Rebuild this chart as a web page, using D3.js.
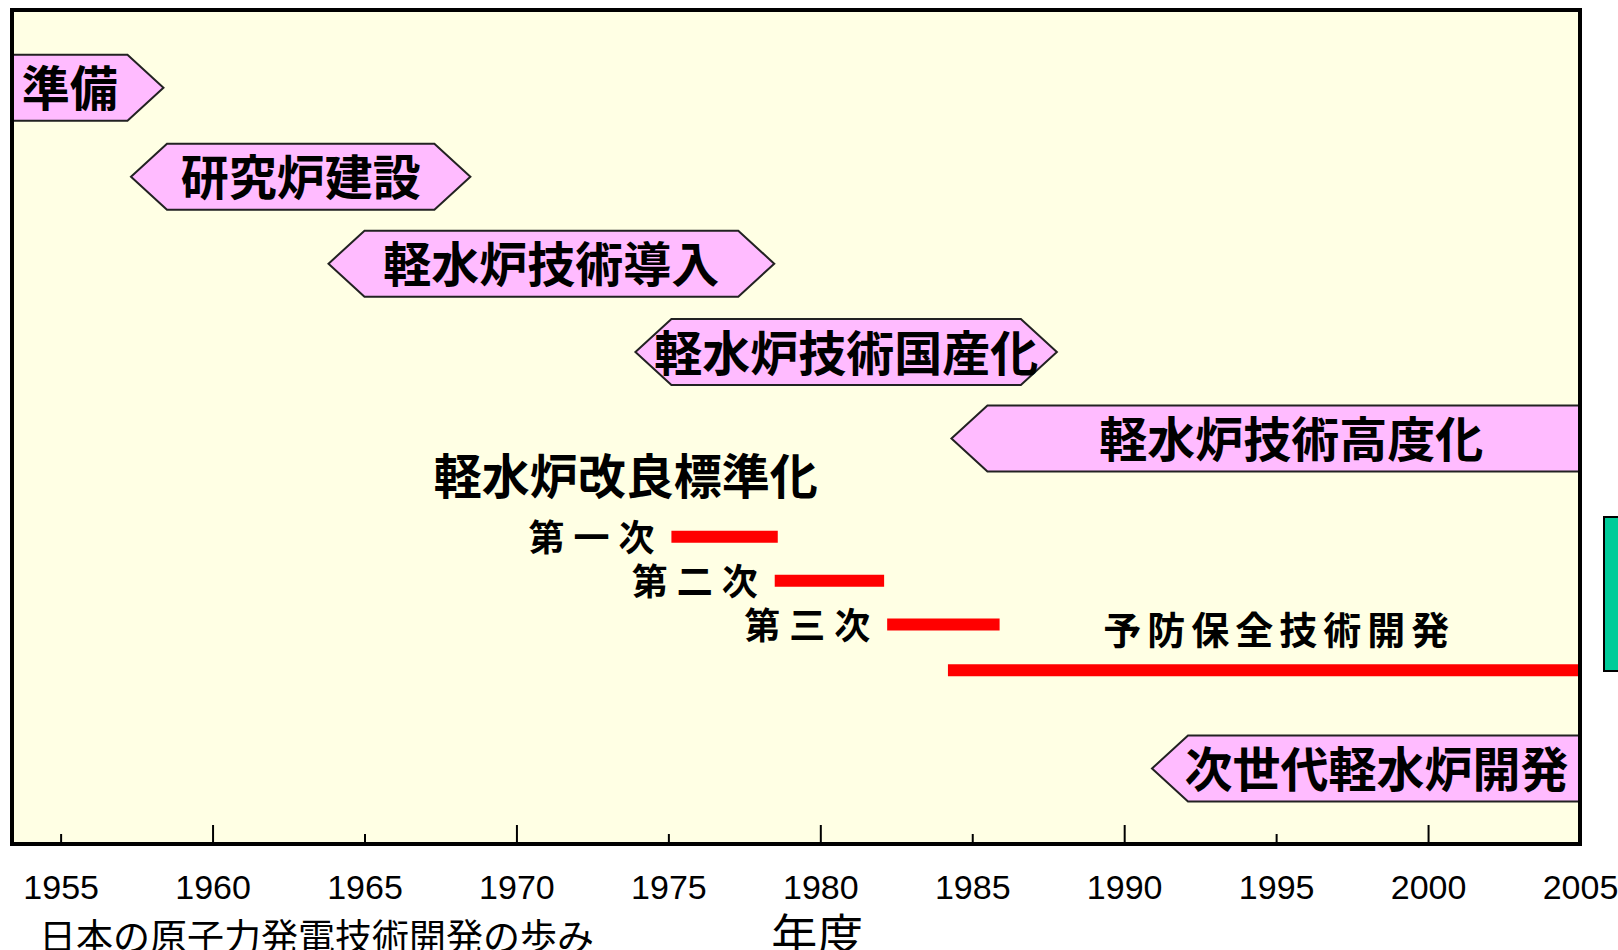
<!DOCTYPE html>
<html>
<head>
<meta charset="utf-8">
<script src="https://cdn.jsdelivr.net/npm/d3@7"></script>
<style>
  body { margin: 0; background: #ffffff; }
  svg { display: block; }
</style>
</head>
<body>
<div id="chart"></div>
<script>
// phase bars: body start / end in fiscal years, row = vertical level
const phaseLabels = ["準備", "研究炉建設", "軽水炉技術導入", "軽水炉技術国産化", "軽水炉技術高度化", "次世代軽水炉開発"];
const phaseStart  = [1953.4, 1958.5, 1965.0, 1975.1, 1985.5, 1992.1];
const phaseEnd    = [1957.2, 1967.3, 1977.3, 1986.6, 2005, 2005];
const phaseRow    = [0.885, 1.9, 2.89, 3.895, 4.88, 8.64];
// label centre (year) where it is not the middle of the bar
const phaseTextYear = [null, null, null, null, 1995.5, 1998.3];

// standardisation programme (red lines)
const stepLabels = ["第一次", "第二次", "第三次"];
const stepStart  = [1975.1, 1978.5, 1982.2];
const stepEnd    = [1978.6, 1982.1, 1985.9];
const stepRow    = [6.0, 6.5, 7.0];

const groupTitle = "軽水炉改良標準化";
const groupTitleYear = 1973.6, groupTitleRow = 5.3;

const maintLabel = "予防保全技術開発";
const maintStart = 1984.2, maintEnd = 2005, maintRow = 7.52;
const maintLabelYear = 1995.1, maintLabelRow = 7.06;

const tickYears = [1955, 1960, 1965, 1970, 1975, 1980, 1985, 1990, 1995, 2000, 2005];
const caption = "日本の原子力発電技術開発の歩み";
const xTitle = "年度";

const width = 1618, height = 950;
const frame = { left: 12, right: 1580, top: 10, bottom: 844 };
const barH = 66, tip = 36;

const svg = d3.select("#chart")
    .append("svg")
    .attr("width", width)
    .attr("height", height);

const xScale = d3.scaleLinear()
    .domain([1953.4, 2005])
    .range([frame.left, frame.right]);

const yScale = d3.scaleLinear()
    .domain([0, 9.5])
    .range([frame.top, frame.bottom]);

const [x0, x1] = xScale.domain();

// plot background
svg.append("rect")
    .attr("x", frame.left)
    .attr("y", frame.top)
    .attr("width", frame.right - frame.left)
    .attr("height", frame.bottom - frame.top)
    .attr("fill", "#ffffe4");

// hexagonal arrow bars
const phases = phaseLabels.map((label, i) => ({
    label, start: phaseStart[i], end: phaseEnd[i], row: phaseRow[i],
    textYear: phaseTextYear[i] != null ? phaseTextYear[i] : (phaseStart[i] + phaseEnd[i]) / 2
}));

function hexPath(d) {
    const a = xScale(d.start), b = xScale(d.end), c = yScale(d.row);
    const t = c - barH / 2, bt = c + barH / 2;
    const left = d.start <= x0 ? [[a, bt], [a, t]] : [[a, bt], [a - tip, c], [a, t]];
    const right = d.end >= x1 ? [[b, t], [b, bt]] : [[b, t], [b + tip, c], [b, bt]];
    return "M" + left.concat(right).map(p => p.join(",")).join("L") + "Z";
}

svg.selectAll(".phase")
    .data(phases)
    .join("path")
    .attr("class", "phase")
    .attr("d", hexPath)
    .attr("fill", "#ffbbff")
    .attr("stroke", "#222")
    .attr("stroke-width", 2);

svg.selectAll(".phase-label")
    .data(phases)
    .join("text")
    .attr("class", "phase-label")
    .attr("x", d => xScale(d.textYear))
    .attr("y", d => yScale(d.row))
    .attr("dy", "-0.05em")
    .attr("text-anchor", "middle")
    .attr("dominant-baseline", "central")
    .style("font-family", "'Noto Sans CJK JP'")
    .style("font-weight", 700)
    .style("font-size", "48px")
    .text(d => d.label);

// standardisation title
svg.append("text")
    .attr("x", xScale(groupTitleYear))
    .attr("y", yScale(groupTitleRow))
    .attr("dy", "-0.05em")
    .attr("text-anchor", "middle")
    .attr("dominant-baseline", "central")
    .style("font-family", "'Noto Sans CJK JP'")
    .style("font-weight", 700)
    .style("font-size", "48px")
    .text(groupTitle);

// red lines
const steps = stepLabels.map((label, i) => ({
    label, start: stepStart[i], end: stepEnd[i], row: stepRow[i]
}));
steps.push({ label: null, start: maintStart, end: maintEnd, row: maintRow });

svg.selectAll(".step")
    .data(steps)
    .join("line")
    .attr("class", "step")
    .attr("x1", d => xScale(d.start))
    .attr("x2", d => xScale(d.end))
    .attr("y1", d => yScale(d.row))
    .attr("y2", d => yScale(d.row))
    .attr("stroke", "#ff0000")
    .attr("stroke-width", 12);

svg.selectAll(".step-label")
    .data(steps.filter(d => d.label))
    .join("text")
    .attr("class", "step-label")
    .attr("x", d => xScale(d.start) - 8)
    .attr("y", d => yScale(d.row))
    .attr("dy", "-0.05em")
    .attr("text-anchor", "end")
    .attr("dominant-baseline", "central")
    .style("font-family", "'Noto Sans CJK JP'")
    .style("font-weight", 700)
    .style("font-size", "36px")
    .style("letter-spacing", "9px")
    .text(d => d.label);

svg.append("text")
    .attr("x", xScale(maintLabelYear))
    .attr("y", yScale(maintLabelRow))
    .attr("dy", "-0.05em")
    .attr("text-anchor", "middle")
    .attr("dominant-baseline", "central")
    .style("font-family", "'Noto Sans CJK JP'")
    .style("font-weight", 700)
    .style("font-size", "38px")
    .style("letter-spacing", "6px")
    .text(maintLabel);

// frame on top
svg.append("rect")
    .attr("x", frame.left)
    .attr("y", frame.top)
    .attr("width", frame.right - frame.left)
    .attr("height", frame.bottom - frame.top)
    .attr("fill", "none")
    .attr("stroke", "#000")
    .attr("stroke-width", 4);

// x axis: ticks point up into the plot, labels well below
const xAxis = svg.append("g")
    .attr("transform", `translate(0,${frame.bottom})`)
    .call(d3.axisBottom(xScale).tickValues(tickYears).tickFormat(d3.format("d")).tickSize(0));

xAxis.select(".domain").remove();
xAxis.selectAll(".tick line")
    .attr("y2", d => d % 10 === 0 ? -19 : -10)
    .attr("stroke", "#000")
    .attr("stroke-width", 2);
xAxis.selectAll(".tick text")
    .attr("y", 55)
    .attr("dy", null)
    .attr("fill", "#000")
    .style("font-family", "'Liberation Sans', Arial, sans-serif")
    .style("font-size", "34px");

// x title and caption (both run off the bottom edge, as in the original)
svg.append("text")
    .attr("x", xScale(1980) - 3)
    .attr("y", 952)
    .attr("text-anchor", "middle")
    .style("font-family", "'Noto Sans CJK JP'")
    .style("font-size", "46px")
    .text(xTitle);

svg.append("text")
    .attr("x", 39)
    .attr("y", 951)
    .style("font-family", "'Noto Sans CJK JP'")
    .style("font-size", "37px")
    .text(caption);

// green box cut off at the right edge
svg.append("rect")
    .attr("x", 1604)
    .attr("y", 517)
    .attr("width", 40)
    .attr("height", 154)
    .attr("fill", "#00cc99")
    .attr("stroke", "#000")
    .attr("stroke-width", 2);
</script>
</body>
</html>
